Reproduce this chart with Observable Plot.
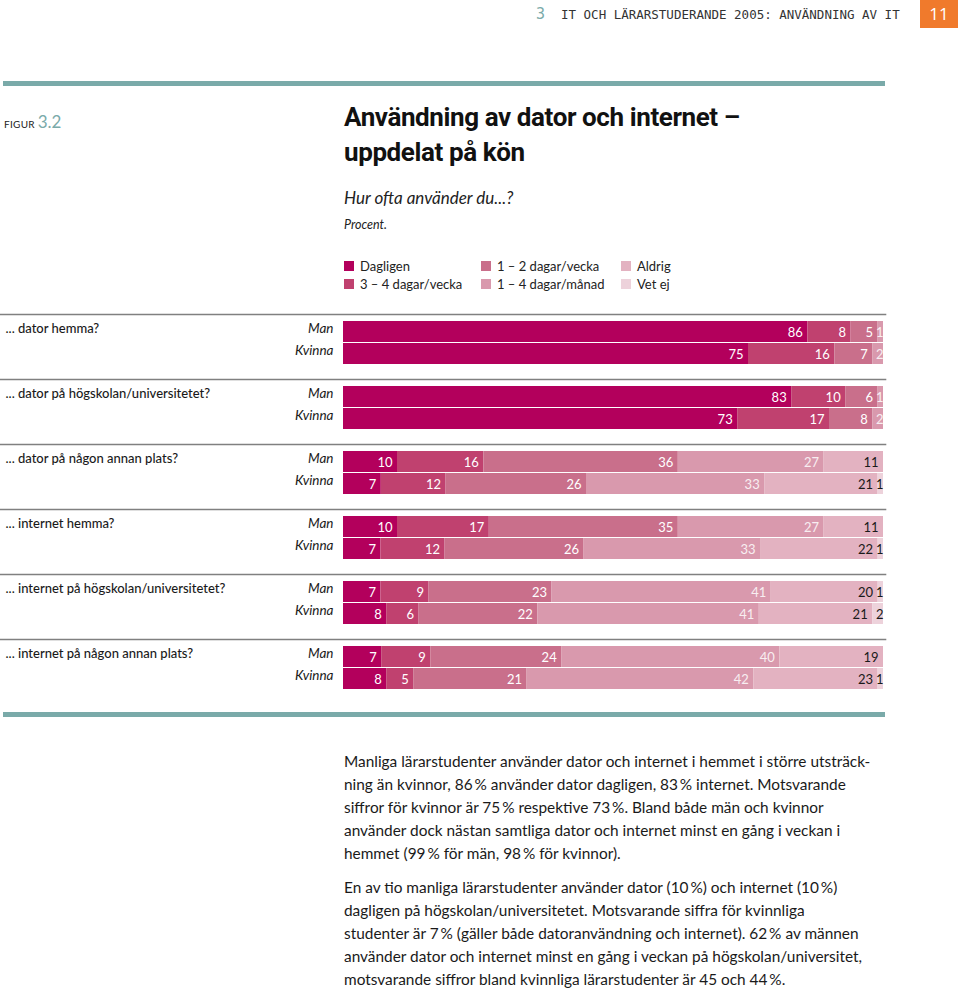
<!DOCTYPE html>
<html><head><meta charset="utf-8">
<script src="https://cdn.jsdelivr.net/npm/d3@7"></script>
<script src="https://cdn.jsdelivr.net/npm/@observablehq/plot@0.6"></script>
<style>
html,body{margin:0;padding:0;background:#fff;}
body{width:960px;height:992px;position:relative;overflow:hidden;font-family:Lato,"Open Sans",sans-serif;color:#1a1a1a;}
.abs{position:absolute;white-space:nowrap;}
#hdrnum{left:536px;top:5px;font-family:"DejaVu Sans Mono",monospace;font-size:15px;color:#7aaaa9;}
#hdrtxt{left:561px;top:7px;font-family:"DejaVu Sans Mono",monospace;font-size:12.5px;color:#333;}
#pg{left:920px;top:0;width:38px;height:28px;background:#f07a2c;color:#fff;font-size:17px;text-align:center;line-height:28px;font-family:"Open Sans",sans-serif;}
.teal{position:absolute;left:3px;width:882px;height:5px;background:#7aaaa9;}
#figur{left:4px;top:111px;font-size:10px;letter-spacing:0.3px;color:#222;}
#figur span{font-size:17px;color:#7aaaa9;letter-spacing:0;}
#title{left:344px;top:100px;font-family:Roboto,sans-serif;font-weight:700;font-size:26px;line-height:35px;letter-spacing:-0.4px;color:#111;}
#sub{left:344px;top:187px;font-style:italic;font-size:17px;color:#222;}
#proc{left:344px;top:217px;font-style:italic;font-size:12.5px;color:#222;}
#legend{left:344px;top:258px;}
.li{position:absolute;font-size:13px;color:#222;white-space:nowrap;}
.li i{position:absolute;left:0;top:3px;width:10px;height:10px;}
.li span{position:absolute;left:16px;top:0;}
#chart{position:absolute;left:0;top:305px;}
#body{left:344px;top:750px;font-size:15.4px;line-height:23px;color:#1a1a1a;}
#body p{margin:0 0 11px 0;}
</style></head>
<body>
<div class="abs" id="hdrnum">3</div>
<div class="abs" id="hdrtxt">IT OCH LÄRARSTUDERANDE 2005: ANVÄNDNING AV IT</div>
<div class="abs" id="pg">11</div>
<div class="teal" style="top:81px"></div>
<div class="abs" id="figur">FIGUR <span>3.2</span></div>
<div class="abs" id="title">Användning av dator och internet –<br>uppdelat på kön</div>
<div class="abs" id="sub">Hur ofta använder du...?</div>
<div class="abs" id="proc">Procent.</div>
<div class="abs" id="legend"></div>
<div id="chart"></div>
<div class="teal" style="top:712px"></div>
<div class="abs" id="body">
<p>Manliga lärarstudenter använder dator och internet i hemmet i större utsträck-<br>ning än kvinnor, 86&#x2009;% använder dator dagligen, 83&#x2009;% internet. Motsvarande<br>siffror för kvinnor är 75&#x2009;% respektive 73&#x2009;%. Bland både män och kvinnor<br>använder dock nästan samtliga dator och internet minst en gång i veckan i<br>hemmet (99&#x2009;% för män, 98&#x2009;% för kvinnor).</p>
<p>En av tio manliga lärarstudenter använder dator (10&#x2009;%) och internet (10&#x2009;%)<br>dagligen på högskolan/universitetet. Motsvarande siffra för kvinnliga<br>studenter är 7&#x2009;% (gäller både datoranvändning och internet). 62&#x2009;% av männen<br>använder dator och internet minst en gång i veckan på högskolan/universitet,<br>motsvarande siffror bland kvinnliga lärarstudenter är 45 och 44&#x2009;%.</p>
</div>
<script>
const questions = [
  "... dator hemma?",
  "... dator på högskolan/universitetet?",
  "... dator på någon annan plats?",
  "... internet hemma?",
  "... internet på högskolan/universitetet?",
  "... internet på någon annan plats?"
];
const sexes = ["Man", "Kvinna"];
const categories = ["Dagligen", "3 – 4 dagar/vecka", "1 – 2 dagar/vecka", "1 – 4 dagar/månad", "Aldrig", "Vet ej"];
const colors = ["#b3005c", "#c0416f", "#c96f8b", "#d999ad", "#e3b2c1", "#edd2db"];
const manValues = [
  [86, 8, 5, 1, 0, 0],
  [83, 10, 6, 1, 0, 0],
  [10, 16, 36, 27, 11, 0],
  [10, 17, 35, 27, 11, 0],
  [7, 9, 23, 41, 20, 1],
  [7, 9, 24, 40, 19, 0]
];
const kvinnaValues = [
  [75, 16, 7, 2, 0, 0],
  [73, 17, 8, 2, 0, 0],
  [7, 12, 26, 33, 21, 1],
  [7, 12, 26, 33, 22, 1],
  [8, 6, 22, 41, 21, 2],
  [8, 5, 21, 42, 23, 1]
];
const legendOrder = [[0, 1], [2, 3], [4, 5]];
const legendCols = [0, 137, 277];

// legend
const leg = document.getElementById("legend");
legendOrder.forEach((col, ci) => col.forEach((k, ri) => {
  const el = document.createElement("div");
  el.className = "li";
  el.style.left = legendCols[ci] + "px";
  el.style.top = (ri * 18) + "px";
  el.innerHTML = `<i style="background:${colors[k]}"></i><span>${categories[k]}</span>`;
  leg.appendChild(el);
}));

const rows = [];
questions.forEach((q, qi) => {
  [manValues, kvinnaValues].forEach((vals, si) => {
    vals[qi].forEach((v, ci) => rows.push({q, sex: sexes[si], cat: categories[ci], value: v}));
  });
});
const combos = [];
questions.forEach(q => sexes.forEach(s => combos.push({q, sex: s})));

const darkCats = ["Aldrig", "Vet ej"];
const stackOpts = {x: "value", y: "sex", fy: "q", z: "cat", order: categories, offset: "normalize"};
function labels(pred, fill, dx) {
  return Plot.text(rows, Plot.stackX2({
    ...stackOpts,
    text: d => pred(d) ? String(d.value) : "",
    textAnchor: "end", dx, dy: 1, fill, fontSize: 13
  }));
}

const chart = Plot.plot({
  width: 960, height: 415,
  marginTop: 9, marginLeft: 0, marginRight: 75, marginBottom: 16,
  style: {fontFamily: "Lato, 'Open Sans', sans-serif", background: "transparent"},
  x: {domain: [0, 1], range: [343, 883], axis: null},
  y: {domain: sexes, range: [15, 59], paddingInner: 0.05, paddingOuter: 0, axis: null},
  fy: {domain: questions, padding: 0, axis: null},
  color: {domain: categories, range: colors},
  marks: [
    Plot.frame({anchor: "top", stroke: "#808080", strokeWidth: 1.6}),
    Plot.barX(rows, Plot.stackX({...stackOpts, fill: "cat"})),
    labels(d => !darkCats.includes(d.cat) && d.cat !== "1 – 4 dagar/månad" && d.value > 2, "#fff", -5),
    labels(d => d.cat === "1 – 4 dagar/månad" && d.value > 2, "#f8eef1", -5),
    labels(d => darkCats.includes(d.cat) && d.value > 2, "#1a1a1a", -5),
    labels(d => !darkCats.includes(d.cat) && d.value > 0 && d.value <= 2, "#f8eef1", 0),
    labels(d => darkCats.includes(d.cat) && d.value > 0 && d.value <= 2, "#1a1a1a", 0),
    Plot.text(questions, {fy: d => d, y: () => "Man", frameAnchor: "left", dx: 5, dy: -3, text: d => d, textAnchor: "start", fontSize: 13, fill: "#1a1a1a", fontWeight: 500}),
    Plot.text(combos, {fy: "q", y: "sex", x: () => 0, dx: -10, dy: -3, text: "sex", textAnchor: "end", fontStyle: "italic", fontSize: 13.5, fill: "#1a1a1a"})
  ]
});
document.getElementById("chart").appendChild(chart);
</script>
</body></html>
